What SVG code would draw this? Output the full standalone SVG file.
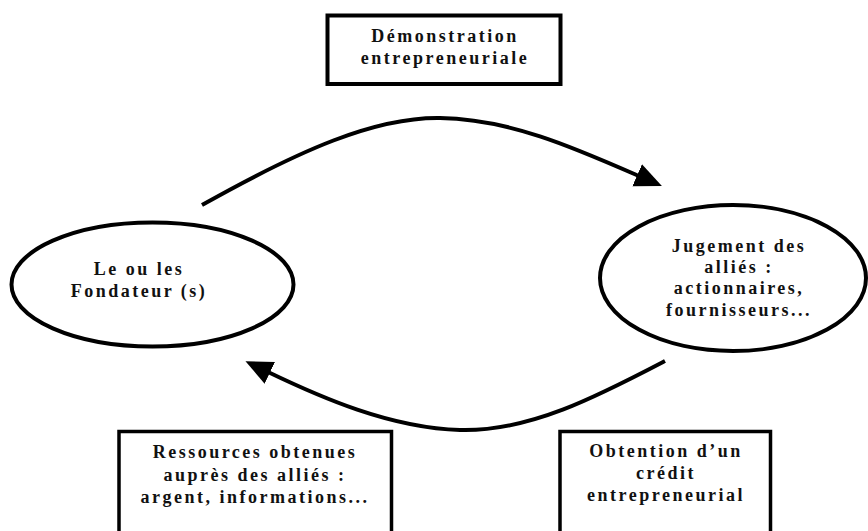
<svg xmlns="http://www.w3.org/2000/svg" width="868" height="531" viewBox="0 0 868 531">
<style>
.box{fill:#fff;stroke:#000;stroke-width:4}
.ell{fill:#fff;stroke:#000;stroke-width:4}
.lbl{font-family:"Liberation Serif","Times New Roman",serif;font-weight:bold;font-size:18px;letter-spacing:2.5px;fill:#111;text-anchor:middle}
.con{fill:none;stroke:#000;stroke-width:4}
</style>
<defs>
<marker id="arr" markerUnits="userSpaceOnUse" markerWidth="30" markerHeight="30" refX="2" refY="12" orient="auto" viewBox="0 0 30 24">
<path d="M0,0 L27,12 L0,24 Z" fill="#000"/>
</marker>
</defs>
<rect width="868" height="531" fill="#fff"/>
<g id="connectors">
<path class="con" d="M202,205 C300,150 375,117 440,118 C510,119 575,148 639,176" marker-end="url(#arr)"/>
<path class="con" d="M665,361 C600,395 530,432 460,430 C390,428 320,397 268,372" marker-end="url(#arr)"/>
</g>
<g id="demonstration">
<rect class="box" x="327.5" y="15.5" width="233" height="68.5"/>
<text class="lbl" x="445" y="42">Démonstration</text>
<text class="lbl" x="445" y="64">entrepreneuriale</text>
</g>
<g id="fondateurs">
<ellipse class="ell" cx="152.5" cy="284.5" rx="141" ry="62"/>
<text class="lbl" x="139" y="275">Le ou les</text>
<text class="lbl" x="139" y="297">Fondateur (s)</text>
</g>
<g id="jugement">
<ellipse class="ell" cx="733" cy="278" rx="133" ry="73"/>
<text class="lbl" x="739" y="252">Jugement des</text>
<text class="lbl" x="739" y="273">alliés :</text>
<text class="lbl" x="739" y="294">actionnaires,</text>
<text class="lbl" x="739" y="316">fournisseurs...</text>
</g>
<g id="ressources">
<rect class="box" x="119" y="431.5" width="272.5" height="130" style="stroke-width:3.5"/>
<text class="lbl" x="255" y="458">Ressources obtenues</text>
<text class="lbl" x="255" y="481">auprès des alliés :</text>
<text class="lbl" x="255" y="503">argent, informations...</text>
</g>
<g id="credit">
<rect class="box" x="560" y="431.5" width="210.5" height="130" style="stroke-width:3.5"/>
<text class="lbl" x="666" y="457">Obtention d’un</text>
<text class="lbl" x="666" y="479">crédit</text>
<text class="lbl" x="666" y="501">entrepreneurial</text>
</g>
</svg>
